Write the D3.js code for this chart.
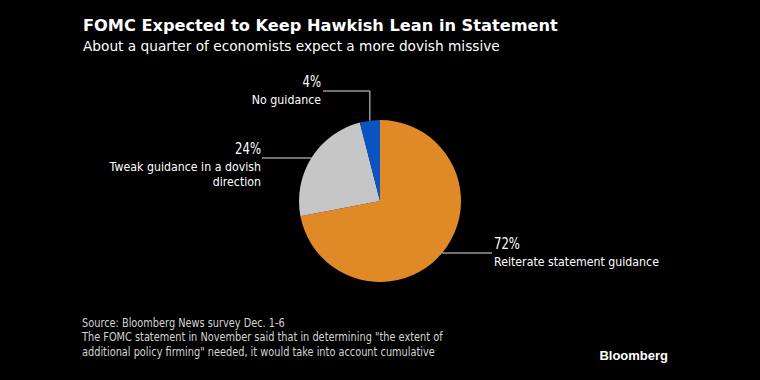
<!DOCTYPE html>
<html><head><meta charset="utf-8">
<script src="https://cdn.jsdelivr.net/npm/d3@7"></script>
<style>html,body{margin:0;padding:0;background:#000;}svg{display:block;}</style>
</head><body>
<script>
const categories = ["Reiterate statement guidance", "Tweak guidance in a dovish direction", "No guidance"];
const values = [72, 24, 4];
const valueLabels = ["72%", "24%", "4%"];
const colors = ["#e08a27", "#c6c6c6", "#0a55c2"];

const W = 760, H = 380;
const svg = d3.select("body").append("svg").attr("width", W).attr("height", H);
svg.append("rect").attr("width", W).attr("height", H).attr("fill", "#000");

const font = "'DejaVu Sans', sans-serif";
const condensed = "'DejaVu Sans Condensed', 'DejaVu Sans', sans-serif";

function addText(x, y, txt, opts) {
  const o = Object.assign({size: 12, anchor: "start", sx: 1, fill: "#fff", family: font, weight: "normal"}, opts);
  const gg = svg.append("g").attr("transform", `translate(${x},${y}) scale(${o.sx},1)`);
  return gg.append("text").attr("x", 0).attr("y", 0).attr("text-anchor", o.anchor)
    .attr("fill", o.fill).attr("font-family", o.family).attr("font-weight", o.weight)
    .attr("font-size", o.size).text(txt);
}

addText(83, 31, "FOMC Expected to Keep Hawkish Lean in Statement", {size: 16.2, weight: "bold"});
addText(83, 51, "About a quarter of economists expect a more dovish missive", {size: 13.7});

const cx = 380, cy = 201, r = 81;
const pie = d3.pie().sort(null).value(d => d)(values);
const arc = d3.arc().innerRadius(0).outerRadius(r);
const g = svg.append("g").attr("transform", `translate(${cx},${cy})`);
g.selectAll("path").data(pie).enter().append("path")
  .attr("d", arc).attr("fill", (d, i) => colors[i]);

const lineColor = "#e0e0e0";
const layouts = [
  {anchor: "start", lx: 494, lineY: 253, side: "right"},
  {anchor: "end", lx: 261, lineY: 158, side: "left"},
  {anchor: "end", lx: 321, lineY: 91, side: "top"}
];
pie.forEach((d, i) => {
  const L = layouts[i];
  const mid = (d.startAngle + d.endAngle) / 2;
  let pts;
  if (L.side === "top") {
    const px = cx + r * Math.sin(mid);
    const py = cy - r * Math.cos(mid);
    pts = [[L.lx + 2, L.lineY], [px, L.lineY], [px, py]];
  } else {
    const dy = L.lineY - cy;
    const dx = Math.sqrt(r * r - dy * dy);
    const px = L.side === "right" ? cx + dx : cx - dx;
    pts = [[L.side === "right" ? L.lx - 2 : L.lx + 1, L.lineY], [px, L.lineY]];
  }
  svg.append("path").attr("d", d3.line()(pts)).attr("fill", "none")
    .attr("stroke", lineColor).attr("stroke-width", 1);
  const baseY = L.lineY - 4;
  addText(L.lx, baseY, valueLabels[i], {size: 15, anchor: L.anchor, sx: 0.78});
  let lines = [categories[i]];
  if (i === 1) lines = ["Tweak guidance in a dovish", "direction"];
  lines.forEach((ln, j) => {
    addText(L.lx, baseY + 17 + j * 15, ln, {size: 12, anchor: L.anchor, sx: 0.92});
  });
});

const foot = ["Source: Bloomberg News survey Dec. 1-6",
  "The FOMC statement in November said that in determining \"the extent of",
  "additional policy firming\" needed, it would take into account cumulative"];
foot.forEach((ln, j) => {
  addText(82, 327 + j * 14.4, ln, {size: 12.5, family: condensed, fill: "#d4d4d4", sx: 0.87});
});
addText(668, 360, "Bloomberg", {size: 13, anchor: "end", weight: "bold", family: "'Liberation Sans', sans-serif"});
</script>
</body></html>
